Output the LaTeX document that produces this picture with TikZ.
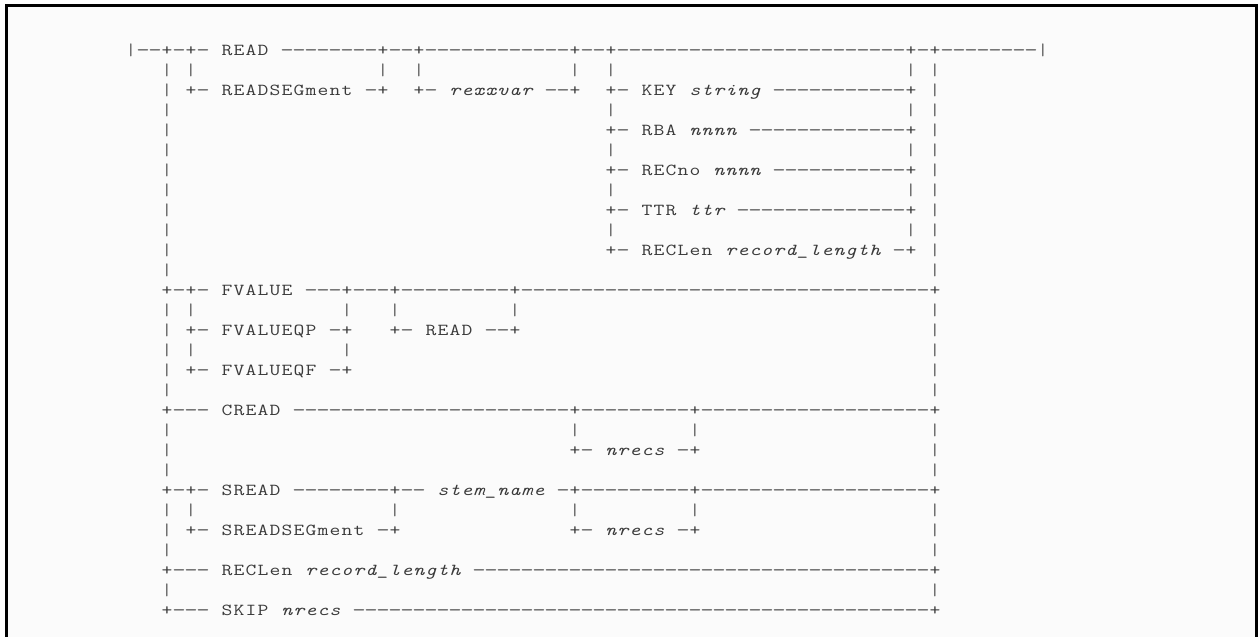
\documentclass[tikz,border=0pt]{standalone}
\usepackage{graphicx}
\definecolor{ink}{HTML}{3A3A3A}
\definecolor{paper}{HTML}{FBFBFB}

% One line of the syntax chart: every character sits in a cell of fixed width.
% '.' is a blank cell, '*' toggles italics for the variable names.
\ExplSyntaxOn
\bool_new:N \l__asc_it_bool
\dim_new:N \l__asc_cw_dim
\dim_set:Nn \l__asc_cw_dim {9pt}
\str_new:N \l__asc_line_str
\cs_new:Npn \__asc_cell:nn #1#2
  {
    \hbox_to_wd:nn { \l__asc_cw_dim }
      { \hss \bool_if:NT \l__asc_it_bool { \itshape } \scalebox{#1}[1]{#2} \hss }
  }
\NewDocumentCommand \asciiline { m }
  {
    \bool_set_false:N \l__asc_it_bool
    \str_set:Nx \l__asc_line_str {#1}
    \str_map_inline:Nn \l__asc_line_str
      {
        \str_case:nnF {##1}
          {
            {*} { \bool_set_inverse:N \l__asc_it_bool }
            {.} { \hbox_to_wd:nn { \l__asc_cw_dim } { } }
            {-} { \__asc_cell:nn {1.55} {##1} }
            {_} { \__asc_cell:nn {1.3} {##1} }
            {|} { \__asc_cell:nn {1} {##1} }
          }
          { \__asc_cell:nn {1.25} {##1} }
      }
  }
\NewExpandableDocumentCommand \gap { m } { \prg_replicate:nn {#1} {.} }
\NewExpandableDocumentCommand \dsh { m } { \prg_replicate:nn {#1} {-} }
\ExplSyntaxOff

\begin{document}
\begin{tikzpicture}[x=0.75pt,y=-0.75pt,
  row/.style={anchor=base west, inner sep=0pt, outer sep=0pt, text=ink,
              font=\ttfamily\fontsize{12.6}{15}\selectfont}]
\useasboundingbox (0,0) rectangle (1260,636);

% frame, open at the bottom
\fill[paper] (6.5,5.5) rectangle (1256.5,640);
\draw[line width=2.6pt] (6.5,640) -- (6.5,5.5) -- (1256.5,5.5) -- (1256.5,640);

% chart rows, 20px apart
\node[row] (l0)  at (125, 55.5) {\asciiline{|\dsh2+-+-.READ.\dsh8+\dsh2+\dsh{12}+\dsh2+\dsh{24}+-+\dsh8|}};
\node[row] (l1)  at (125, 75.5) {\asciiline{\gap3|.|\gap{15}|\gap2|\gap{12}|\gap2|\gap{24}|.|}};
\node[row] (l2)  at (125, 95.5) {\asciiline{\gap3|.+-.READSEGment.-+\gap2+-.*rexxvar*.\dsh2+\gap2+-.KEY.*string*.\dsh{11}+.|}};
\node[row] (l3)  at (125,115.5) {\asciiline{\gap3|\gap{36}|\gap{24}|.|}};
\node[row] (l4)  at (125,135.5) {\asciiline{\gap3|\gap{36}+-.RBA.*nnnn*.\dsh{13}+.|}};
\node[row] (l5)  at (125,155.5) {\asciiline{\gap3|\gap{36}|\gap{24}|.|}};
\node[row] (l6)  at (125,175.5) {\asciiline{\gap3|\gap{36}+-.RECno.*nnnn*.\dsh{11}+.|}};
\node[row] (l7)  at (125,195.5) {\asciiline{\gap3|\gap{36}|\gap{24}|.|}};
\node[row] (l8)  at (125,215.5) {\asciiline{\gap3|\gap{36}+-.TTR.*ttr*.\dsh{14}+.|}};
\node[row] (l9)  at (125,235.5) {\asciiline{\gap3|\gap{36}|\gap{24}|.|}};
\node[row] (l10) at (125,255.5) {\asciiline{\gap3|\gap{36}+-.RECLen.*record_length*.-+.|}};
\node[row] (l11) at (125,275.5) {\asciiline{\gap3|\gap{63}|}};
\node[row] (l12) at (125,295.5) {\asciiline{\gap3+-+-.FVALUE.\dsh3+\dsh3+\dsh9+\dsh{34}+}};
\node[row] (l13) at (125,315.5) {\asciiline{\gap3|.|\gap{12}|\gap3|\gap9|\gap{34}|}};
\node[row] (l14) at (125,335.5) {\asciiline{\gap3|.+-.FVALUEQP.-+\gap3+-.READ.\dsh2+\gap{34}|}};
\node[row] (l15) at (125,355.5) {\asciiline{\gap3|.|\gap{12}|\gap{48}|}};
\node[row] (l16) at (125,375.5) {\asciiline{\gap3|.+-.FVALUEQF.-+\gap{48}|}};
\node[row] (l17) at (125,395.5) {\asciiline{\gap3|\gap{63}|}};
\node[row] (l18) at (125,415.5) {\asciiline{\gap3+\dsh3.CREAD.\dsh{23}+\dsh9+\dsh{19}+}};
\node[row] (l19) at (125,435.5) {\asciiline{\gap3|\gap{33}|\gap9|\gap{19}|}};
\node[row] (l20) at (125,455.5) {\asciiline{\gap3|\gap{33}+-.*nrecs*.-+\gap{19}|}};
\node[row] (l21) at (125,475.5) {\asciiline{\gap3|\gap{63}|}};
\node[row] (l22) at (125,495.5) {\asciiline{\gap3+-+-.SREAD.\dsh8+\dsh2.*stem_name*.-+\dsh9+\dsh{19}+}};
\node[row] (l23) at (125,515.5) {\asciiline{\gap3|.|\gap{16}|\gap{14}|\gap9|\gap{19}|}};
\node[row] (l24) at (125,535.5) {\asciiline{\gap3|.+-.SREADSEGment.-+\gap{14}+-.*nrecs*.-+\gap{19}|}};
\node[row] (l25) at (125,555.5) {\asciiline{\gap3|\gap{63}|}};
\node[row] (l26) at (125,575.5) {\asciiline{\gap3+\dsh3.RECLen.*record_length*.\dsh{38}+}};
\node[row] (l27) at (125,595.5) {\asciiline{\gap3|\gap{63}|}};
\node[row] (l28) at (125,615.5) {\asciiline{\gap3+\dsh3.SKIP.*nrecs*.\dsh{48}+}};
\end{tikzpicture}
\end{document}
